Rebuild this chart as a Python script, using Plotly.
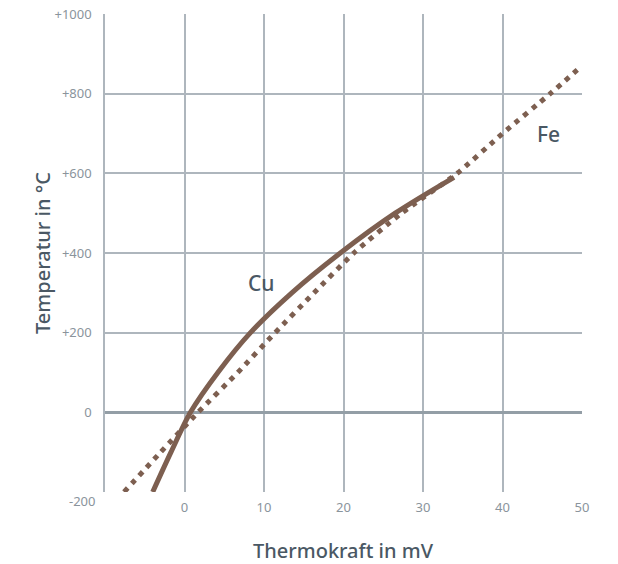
import plotly.graph_objects as go

# Data (temperature in °C vs thermo-voltage in mV)
cu_temp = [-200, -100, 0, 100, 200, 300, 400, 500, 590]
cu_mv = [-4.0, -1.7, 0.75, 4.2, 8.3, 13.5, 19.6, 26.5, 33.9]

fe_temp = [-200, -100, 0, 100, 200, 300, 400, 500, 600, 700, 800, 870]
fe_mv = [-7.6, -3.0, 1.7, 6.7, 11.4, 16.3, 21.3, 27.3, 34.3, 40.0, 46.0, 50.0]

x_ticks = [-10, 0, 10, 20, 30, 40, 50]
x_labels = ["", "0", "10", "20", "30", "40", "50"]
y_ticks = [-200, 0, 200, 400, 600, 800, 1000]
y_labels = ["", "0", "+200", "+400", "+600", "+800", "+1000"]

line_col = "#7d5f50"
grid_col = "#aeb6bd"
tick_col = "#8a949c"
text_col = "#4a5864"
font = "Noto Sans"

fig = go.Figure()
fig.add_trace(go.Scatter(x=fe_mv, y=fe_temp, mode="lines", name="Fe",
                         line=dict(color=line_col, width=5, dash="5px,6px", shape="spline", smoothing=0.6),
                         showlegend=False, hoverinfo="skip"))
fig.add_trace(go.Scatter(x=cu_mv, y=cu_temp, mode="lines", name="Cu",
                         line=dict(color=line_col, width=5, shape="spline", smoothing=0.8),
                         showlegend=False, hoverinfo="skip"))

title_font = dict(size=20, color=text_col, family=font, weight=500)

fig.update_layout(
    width=618, height=564,
    margin=dict(l=105, r=36, t=14, b=72),
    plot_bgcolor="white", paper_bgcolor="white",
    font=dict(family=font, color=tick_col),
    xaxis=dict(range=[-10, 50], tickvals=x_ticks, ticktext=x_labels,
               showgrid=True, gridcolor=grid_col, gridwidth=1.5,
               zeroline=False, showline=False, ticks="", automargin=False,
               ticklabelstandoff=6,
               tickfont=dict(size=13, color=tick_col, family=font)),
    yaxis=dict(range=[-200, 1000], tickvals=y_ticks, ticktext=y_labels,
               showgrid=True, gridcolor=grid_col, gridwidth=1.5,
               zeroline=True, zerolinecolor="#939ea6", zerolinewidth=2.5,
               showline=True, linecolor=grid_col, linewidth=1.5,
               ticks="", ticklabelstandoff=9, automargin=False,
               tickfont=dict(size=13, color=tick_col, family=font)),
    annotations=[
        dict(x=-10, y=-200, xref="x", yref="y", text="-200", showarrow=False,
             xanchor="right", yanchor="middle", xshift=-7, yshift=-9,
             font=dict(size=13, color=tick_col, family=font)),
        dict(x=0.5, y=0, xref="paper", yref="paper", text="Thermokraft in mV", showarrow=False,
             xanchor="center", yanchor="middle", yshift=-58, font=title_font),
        dict(x=0, y=0.5, xref="paper", yref="paper", text="Temperatur in °C", showarrow=False,
             xanchor="center", yanchor="middle", xshift=-63, textangle=-90, font=title_font),
        dict(x=9.7, y=325, xref="x", yref="y", text="Cu", showarrow=False,
             font=dict(size=21, color=text_col, family=font, weight=500)),
        dict(x=45.8, y=699, xref="x", yref="y", text="Fe", showarrow=False,
             font=dict(size=21, color=text_col, family=font, weight=500)),
    ],
)

fig.write_html("out.html")
